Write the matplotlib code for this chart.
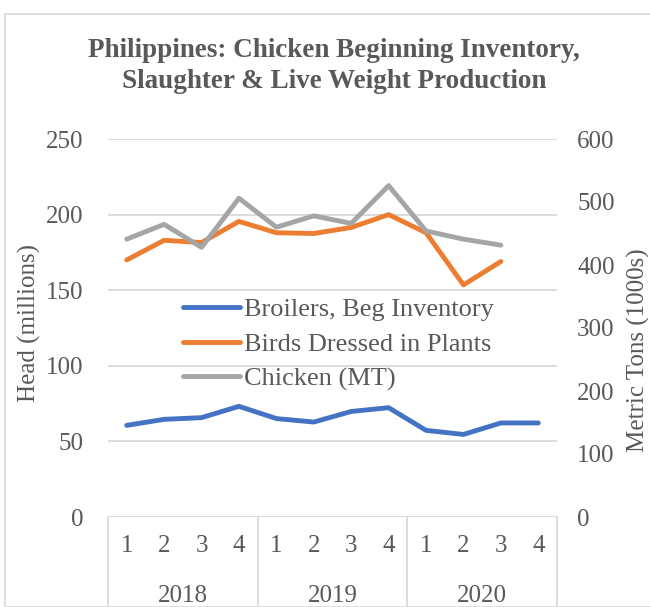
import matplotlib
matplotlib.use("Agg")
import matplotlib.pyplot as plt
from matplotlib.patches import Rectangle
import matplotlib.transforms as mtransforms
import numpy as np

plt.rcParams['font.family'] = ['Liberation Serif', 'DejaVu Serif']

years = ['2018', '2019', '2020']
quarters = ['1', '2', '3', '4']
broilers = [60.6, 64.6, 65.7, 73.2, 65.1, 62.8, 69.8, 72.3, 57.3, 54.6, 62.2, 62.2]
birds_dressed = [170, 183, 181.5, 195.5, 188, 187.5, 191.5, 200, 188, 153.5, 169]
chicken_mt = [441, 464.5, 428, 506, 460, 478, 466, 526, 454, 441, 431.5]

left_ticks = [0, 50, 100, 150, 200, 250]
right_ticks = [0, 100, 200, 300, 400, 500, 600]

TXT = '#595959'
GRID = '#D9D9D9'

W, H = 650, 607
fig = plt.figure(figsize=(W/100, H/100), dpi=100)
fig.patches.append(Rectangle((5/W, 0), 1, 1 - 14/H, transform=fig.transFigure,
                             fill=False, edgecolor='#D9D9D9', lw=1.2))

L, R, T, B = 108, 557, 139, 517
ax = fig.add_axes([L/W, (H-B)/H, (R-L)/W, (B-T)/H])
ax2 = ax.twinx()

n = len(years) * len(quarters)
x = np.arange(n) + 0.5

LW = 3.5
ax.plot(x[:len(broilers)], broilers, color='#4472C4', lw=LW, solid_capstyle='round',
        solid_joinstyle='round', label='Broilers, Beg Inventory', zorder=3)
ax.plot(x[:len(birds_dressed)], birds_dressed, color='#ED7D31', lw=LW, solid_capstyle='round',
        solid_joinstyle='round', label='Birds Dressed in Plants', zorder=3)
ax2.plot(x[:len(chicken_mt)], chicken_mt, color='#A5A5A5', lw=LW, solid_capstyle='round',
         solid_joinstyle='round', label='Chicken (MT)', zorder=3)

ax.set_xlim(0, n)
ax.set_ylim(0, 250)
ax2.set_ylim(0, 600)
ax.set_yticks(left_ticks)
ax2.set_yticks(right_ticks)
ax.set_xticks([])
for a in (ax, ax2):
    for s in a.spines.values():
        s.set_visible(False)
ax.tick_params(axis='y', length=0, pad=18, labelsize=18, labelcolor=TXT)
ax2.tick_params(axis='y', length=0, pad=14.5, labelsize=18, labelcolor=TXT)
ax.yaxis.grid(True, color=GRID, lw=1.3)
ax.set_axisbelow(True)
ax.set_ylabel('Head (millions)', fontsize=18, color=TXT)
ax2.set_ylabel('Metric Tons (1000s)', fontsize=18, color=TXT)
ax.yaxis.set_label_coords((41 - L)/(R - L), (B - 323)/(B - T))
ax2.yaxis.set_label_coords((627 - L)/(R - L), (B - 350)/(B - T))

# category axis
trans = mtransforms.blended_transform_factory(ax.transData, ax.transAxes)
ybot = -(H - B + 5) / (B - T)
for k in range(len(years) + 1):
    xx = k * len(quarters)
    ax.plot([xx, xx], [0, ybot], transform=trans, color=GRID, lw=1.3, clip_on=False)
yq = -(546 - B) / (B - T)
yy = -(596 - B) / (B - T)
for i, yr in enumerate(years):
    for j, q in enumerate(quarters):
        ax.text(i*len(quarters) + j + 0.5, yq, q, transform=trans, ha='center', va='center',
                fontsize=18, color=TXT)
    ax.text(i*len(quarters) + len(quarters)/2, yy, yr, transform=trans, ha='center', va='center',
            fontsize=18, color=TXT)

fig.text(334/W, 1 - 66/H, 'Philippines: Chicken Beginning Inventory,\nSlaughter & Live Weight Production',
         ha='center', va='center', fontsize=19.5, fontweight='bold', color=TXT, linespacing=1.33)

h1, l1 = ax.get_legend_handles_labels()
h2, l2 = ax2.get_legend_handles_labels()
leg = ax2.legend(h1 + h2, l1 + l2, loc='upper left',
                 bbox_to_anchor=((183 - L)/(R - L), 1 - (298 - T)/(B - T)),
                 frameon=False, fontsize=19, labelcolor=TXT, handlelength=2.15, handletextpad=0.15,
                 borderaxespad=0, borderpad=0, labelspacing=0.42)

fig.savefig('out.png', dpi=100)
